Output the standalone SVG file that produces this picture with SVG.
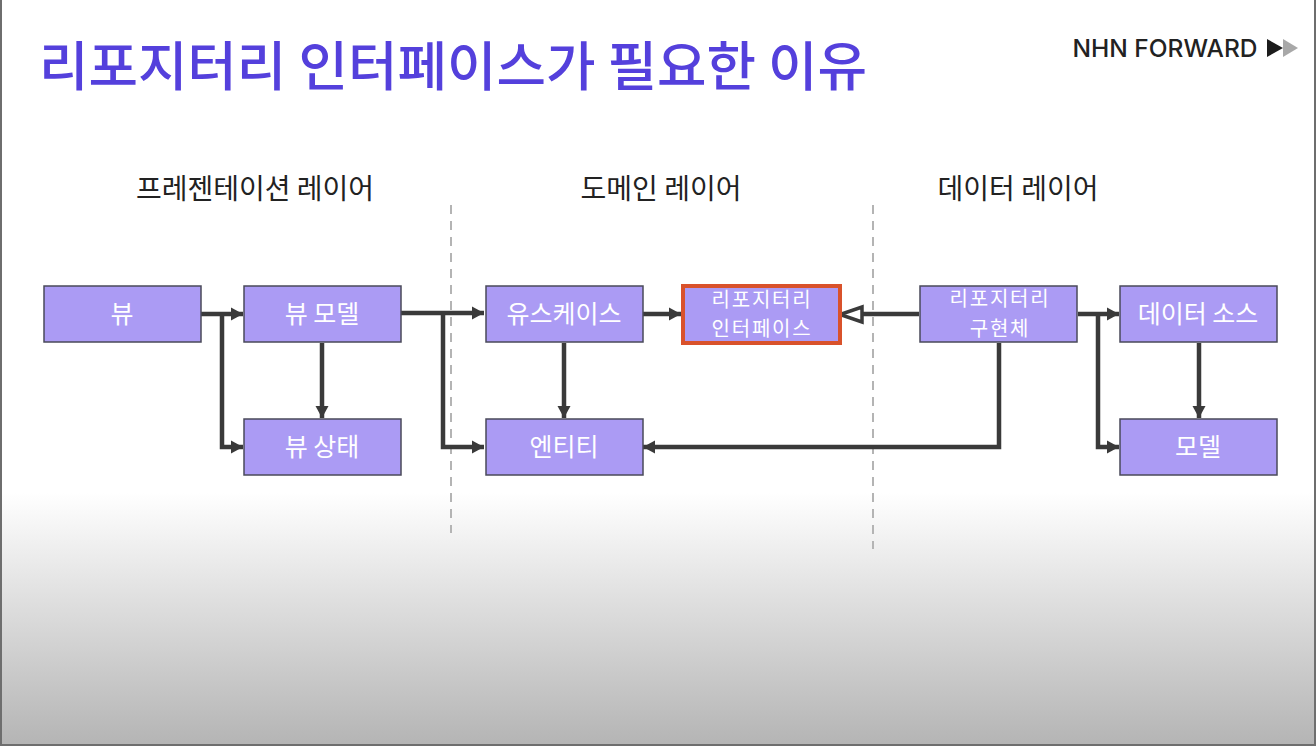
<svg xmlns="http://www.w3.org/2000/svg" width="1316" height="746" viewBox="0 0 1316 746">
<style>
text{font-family:"Noto Sans CJK KR","Noto Sans",sans-serif;text-anchor:middle}
.n{fill:#ab9bf4;stroke:#4a4a5a;stroke-width:1.5}
.t{fill:#fff;font-size:25px}
.s{fill:#fff;font-size:20px;letter-spacing:1.800px}
.h{fill:#222;font-size:28px}
.c{fill:none;stroke:#3a3a3a;stroke-width:4.500}
.d{stroke:#b4b4b4;stroke-width:2;stroke-dasharray:9 7;fill:none}
</style>
<defs>
<linearGradient id="bg" x1="0" y1="0" x2="0" y2="1"><stop offset="0" stop-color="#fff"/><stop offset="0.66" stop-color="#fff"/><stop offset="1" stop-color="#b4b4b4"/></linearGradient>
<marker id="a" markerUnits="userSpaceOnUse" markerWidth="14" markerHeight="16" refX="12" refY="8" orient="auto"><path d="M0 1.500L12 8L0 14.500Z" fill="#3a3a3a"/></marker>
</defs>
<rect width="1316" height="746" fill="url(#bg)"/>
<path d="M1 0V745H1315V0" fill="none" stroke="#6e6e6e" stroke-width="2"/>
<text x="453" y="86" style="font-size:53.800px;font-weight:500;fill:#5440dc">리포지터리 인터페이스가 필요한 이유</text>
<text x="1165" y="57" style="font-family:Inter,'Liberation Sans',sans-serif;font-size:24.500px;font-weight:500;fill:#222">NHN FORWARD</text>
<path d="M1267 39L1283 48L1267 57Z" fill="#1c1c1c"/><path d="M1283 39L1298 48L1283 57Z" fill="#a8a8a8"/>
<text class="h" x="255" y="199">프레젠테이션 레이어</text>
<text class="h" x="661" y="199">도메인 레이어</text>
<text class="h" x="1018" y="199">데이터 레이어</text>
<path class="d" d="M451 205V533"/><path class="d" d="M873 205V549"/>
<g id="connectors">
<path class="c" d="M201 314H243" marker-end="url(#a)"/>
<path class="c" d="M222 314V447H243" marker-end="url(#a)"/>
<path class="c" d="M322 343V418" marker-end="url(#a)"/>
<path class="c" d="M401 313H484" marker-end="url(#a)"/>
<path class="c" d="M443 313V447H484" marker-end="url(#a)"/>
<path class="c" d="M643 314H681" marker-end="url(#a)"/>
<path class="c" d="M564 343V418" marker-end="url(#a)"/>
<path class="c" d="M919 314H862"/>
<path d="M862 307V322L840 314.500Z" fill="#fff" stroke="#3a3a3a" stroke-width="3.500"/>
<path class="c" d="M999 343V447H643" marker-end="url(#a)"/>
<path class="c" d="M1078 314H1119" marker-end="url(#a)"/>
<path class="c" d="M1098 314V447H1119" marker-end="url(#a)"/>
<path class="c" d="M1199 343V418" marker-end="url(#a)"/>
</g>
<g id="n1"><rect class="n" x="44" y="286" width="157" height="56"/><text class="t" x="122" y="323">뷰</text></g>
<g id="n2"><rect class="n" x="244" y="286" width="157" height="56"/><text class="t" x="322" y="323">뷰 모델</text></g>
<g id="n3"><rect class="n" x="244" y="419" width="157" height="56"/><text class="t" x="322" y="456">뷰 상태</text></g>
<g id="n4"><rect class="n" x="486" y="286" width="157" height="56"/><text class="t" x="564" y="323">유스케이스</text></g>
<g id="n5"><rect class="n" x="486" y="419" width="157" height="56"/><text class="t" x="564" y="456">엔티티</text></g>
<g id="n6"><rect x="683" y="286" width="157" height="57" fill="#ab9bf4" stroke="#d9522b" stroke-width="4"/><text class="s"><tspan x="762" y="306.500">리포지터리</tspan><tspan x="762" y="336">인터페이스</tspan></text></g>
<g id="n7"><rect class="n" x="920" y="286" width="157" height="56"/><text class="s"><tspan x="1000" y="306">리포지터리</tspan><tspan x="1000" y="335.500">구현체</tspan></text></g>
<g id="n8"><rect class="n" x="1120" y="286" width="157" height="56"/><text class="t" x="1198" y="323">데이터 소스</text></g>
<g id="n9"><rect class="n" x="1120" y="419" width="157" height="56"/><text class="t" x="1198" y="456">모델</text></g>
</svg>
